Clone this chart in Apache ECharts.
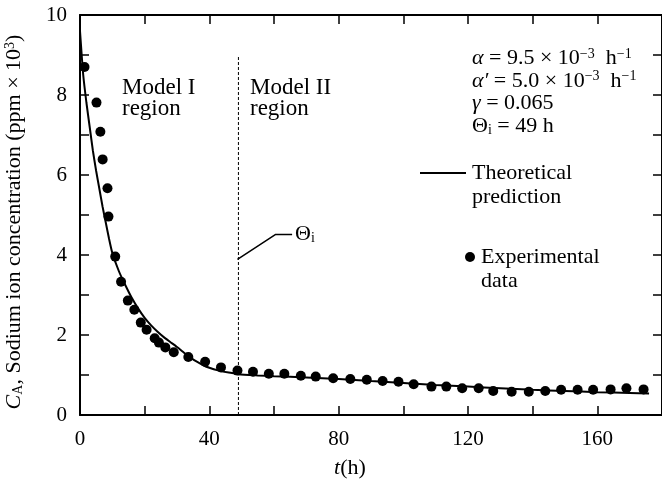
<!DOCTYPE html>
<html>
<head>
<meta charset="utf-8">
<script src="https://cdn.jsdelivr.net/npm/echarts@6/dist/echarts.min.js"></script>
<style>
  html, body { margin: 0; padding: 0; background: #fff; }
  #chart { width: 662px; height: 481px; }
</style>
</head>
<body>
<div id="chart"></div>
<script>
// experimental data: time (h) and sodium ion concentration (ppm x 10^3)
const expT = [1.4, 5.1, 6.3, 7.0, 8.5, 8.8, 10.9, 12.7, 14.8, 16.8, 18.8, 20.6, 23.1, 24.4, 26.4, 29.0, 33.5,
  38.7, 43.6, 48.7, 53.5, 58.4, 63.2, 68.3, 72.9, 78.3, 83.6, 88.7, 93.6, 98.5, 103.2, 108.7, 113.3,
  118.2, 123.3, 127.8, 133.5, 138.8, 143.9, 148.8, 153.9, 158.7, 164.1, 169.0, 174.3];
const expC = [8.70, 7.81, 7.08, 6.39, 5.67, 4.96, 3.96, 3.33, 2.86, 2.63, 2.31, 2.13, 1.92, 1.81, 1.69, 1.57, 1.45,
  1.33, 1.19, 1.11, 1.08, 1.03, 1.03, 0.98, 0.96, 0.92, 0.90, 0.88, 0.85, 0.83, 0.77, 0.71, 0.71,
  0.67, 0.67, 0.60, 0.58, 0.58, 0.60, 0.63, 0.63, 0.63, 0.64, 0.67, 0.64];

// theoretical prediction curve
const fitT = [0, 1, 2, 3, 4, 5, 6, 7, 8, 9, 10, 12, 14, 16, 18, 20, 22, 24, 26, 28, 30, 32, 34, 36, 38, 40, 43, 46, 49,
  55, 60, 70, 80, 90, 100, 110, 120, 130, 140, 150, 160, 170, 176];
const fitC = [9.6, 8.5, 7.8, 7.2, 6.6, 6.1, 5.65, 5.2, 4.8, 4.4, 4.05, 3.6, 3.25, 2.93, 2.66, 2.43, 2.24, 2.08, 1.94, 1.82, 1.70, 1.57, 1.44, 1.34, 1.25, 1.18, 1.11, 1.06, 1.02,
  0.99, 0.97, 0.94, 0.90, 0.85, 0.80, 0.75, 0.71, 0.67, 0.63, 0.60, 0.57, 0.55, 0.54];

// model I / model II boundary (Theta_i = 49 h)
const boundaryT = [49, 49];
const boundaryC = [0, 8.95];
// leader line to the Theta_i label
const leaderT = [48.7, 60.4, 65.6];
const leaderC = [3.89, 4.51, 4.51];

const xTicks = [0, 40, 80, 120, 160];
const yTicks = [0, 2, 4, 6, 8, 10];

const zip = (a, b) => a.map((v, i) => [v, b[i]]);
const FONT = 'Liberation Serif';

const chart = echarts.init(document.getElementById('chart'));

const axisCommon = {
  axisLine: { show: true, onZero: false, lineStyle: { color: '#000', width: 2 } },
  axisTick: { show: true, inside: true, length: 9, lineStyle: { color: '#000', width: 1.5 } },
  splitLine: { show: false }
};

const option = {
  animation: false,
  backgroundColor: '#fff',
  grid: { left: 80, top: 15, width: 587, height: 400 },
  xAxis: [
    Object.assign({
      type: 'value', min: 0, max: 180, interval: 20, position: 'bottom',
      axisLabel: {
        color: '#000', fontFamily: FONT, fontSize: 21, margin: 14, showMaxLabel: false,
        formatter: v => (xTicks.indexOf(v) >= 0 ? String(v) : '')
      }
    }, axisCommon),
    Object.assign({
      type: 'value', min: 0, max: 180, interval: 20, position: 'top',
      axisLabel: { show: false }
    }, axisCommon)
  ],
  yAxis: [
    Object.assign({
      type: 'value', min: 0, max: 10, interval: 1, position: 'left',
      axisLabel: {
        color: '#000', fontFamily: FONT, fontSize: 21, margin: 13,
        formatter: v => (yTicks.indexOf(v) >= 0 ? String(v) : '')
      }
    }, axisCommon),
    Object.assign({
      type: 'value', min: 0, max: 10, interval: 1, position: 'right',
      axisLabel: { show: false }
    }, axisCommon)
  ],
  series: [
    {
      name: 'Theoretical prediction', type: 'line', data: zip(fitT, fitC),
      showSymbol: false, smooth: 0.2,
      lineStyle: { color: '#000', width: 2 }
    },
    {
      name: 'Experimental data', type: 'scatter', data: zip(expT, expC),
      symbolSize: 10, itemStyle: { color: '#000', opacity: 1 }
    },
    {
      name: 'boundary', type: 'line', data: zip(boundaryT, boundaryC),
      showSymbol: false,
      lineStyle: { color: '#000', width: 1, type: [3, 2] }
    },
    {
      name: 'leader', type: 'line', data: zip(leaderT, leaderC),
      showSymbol: false,
      lineStyle: { color: '#000', width: 1.5 },
      endLabel: {
        show: true, distance: 3,
        formatter: () => '{n|Θ}{s|i}',
        rich: {
          n: { fontFamily: FONT, fontSize: 22, color: '#000' },
          s: { fontFamily: FONT, fontSize: 14, color: '#000', verticalAlign: 'bottom', padding: [8, 0, 0, 0] }
        }
      }
    }
  ],
  graphic: [
    {
      type: 'text', left: 122, top: 76,
      style: { text: 'Model I\nregion', fontFamily: FONT, fontSize: 23, lineHeight: 21, fill: '#000' }
    },
    {
      type: 'text', left: 250, top: 76,
      style: { text: 'Model II\nregion', fontFamily: FONT, fontSize: 23, lineHeight: 21, fill: '#000' }
    },
    {
      type: 'text', left: 472, top: 47,
      style: {
        text: '{i|α} = 9.5 × 10{p|−3}  h{p|−1}\n{i|α′} = 5.0 × 10{p|−3}  h{p|−1}\n{i|γ} = 0.065\nΘ{b|i} = 49 h',
        fontFamily: FONT, fontSize: 22, lineHeight: 22.5, fill: '#000',
        rich: {
          i: { fontFamily: FONT, fontSize: 22, fontStyle: 'italic', fill: '#000' },
          p: { fontFamily: FONT, fontSize: 14, fill: '#000', verticalAlign: 'top', padding: [0, 0, 8, 0] },
          b: { fontFamily: FONT, fontSize: 14, fill: '#000', verticalAlign: 'bottom', padding: [8, 0, 0, 0] }
        }
      }
    },
    {
      type: 'line', shape: { x1: 420, y1: 173, x2: 466, y2: 173 },
      style: { stroke: '#000', lineWidth: 2 }
    },
    {
      type: 'text', left: 472, top: 161,
      style: { text: 'Theoretical\nprediction', fontFamily: FONT, fontSize: 22, lineHeight: 24, fill: '#000' }
    },
    {
      type: 'circle', shape: { cx: 470, cy: 257, r: 5 },
      style: { fill: '#000' }
    },
    {
      type: 'text', left: 481, top: 245,
      style: { text: 'Experimental\ndata', fontFamily: FONT, fontSize: 22, lineHeight: 24, fill: '#000' }
    },
    {
      type: 'text', x: 14, y: 222, rotation: Math.PI / 2,
      style: {
        text: '{i|C}{b|A}, Sodium ion concentration (ppm × 10{p|3})',
        fontFamily: FONT, fontSize: 22, fill: '#000', align: 'center', verticalAlign: 'middle',
        rich: {
          i: { fontFamily: FONT, fontSize: 22, fontStyle: 'italic', fill: '#000' },
          b: { fontFamily: FONT, fontSize: 14, fill: '#000', verticalAlign: 'bottom', padding: [8, 0, 0, 0] },
          p: { fontFamily: FONT, fontSize: 14, fill: '#000', verticalAlign: 'top', padding: [0, 0, 8, 0] }
        }
      }
    },
    {
      type: 'text', x: 350, y: 468,
      style: {
        text: '{i|t}(h)', fontFamily: FONT, fontSize: 22, fill: '#000', align: 'center', verticalAlign: 'middle',
        rich: { i: { fontFamily: FONT, fontSize: 22, fontStyle: 'italic', fill: '#000' } }
      }
    }
  ]
};

chart.setOption(option);
</script>
</body>
</html>
